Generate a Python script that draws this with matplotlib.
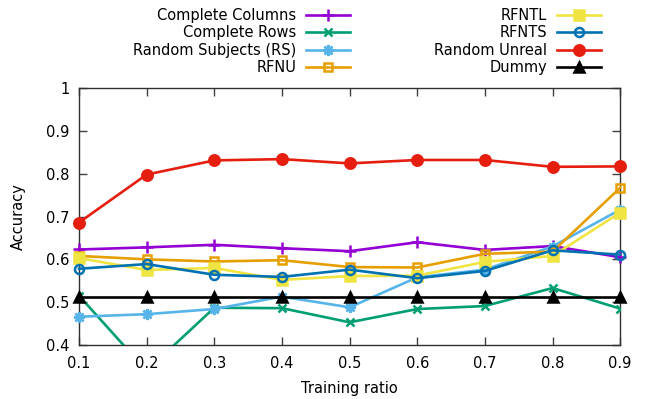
import numpy as np
import matplotlib
matplotlib.use('Agg')
import matplotlib.pyplot as plt

ratios = [0.1, 0.2, 0.3, 0.4, 0.5, 0.6, 0.7, 0.8, 0.9]

complete_columns = [0.623, 0.628, 0.634, 0.626, 0.619, 0.640, 0.622, 0.631, 0.605]
complete_rows = [0.515, 0.340, 0.487, 0.486, 0.453, 0.484, 0.491, 0.533, 0.485]
random_subjects = [0.466, 0.472, 0.484, 0.513, 0.488, 0.558, 0.576, 0.630, 0.716]
rfnu = [0.608, 0.600, 0.595, 0.598, 0.582, 0.581, 0.613, 0.618, 0.767]
rfntl = [0.603, 0.575, 0.580, 0.552, 0.561, 0.562, 0.594, 0.608, 0.709]
rfnts = [0.578, 0.589, 0.564, 0.559, 0.576, 0.556, 0.573, 0.621, 0.611]
random_unreal = [0.686, 0.798, 0.831, 0.834, 0.824, 0.832, 0.832, 0.816, 0.817]
dummy = [0.511] * 9

series = [
    ('Complete Columns', complete_columns, '#9400d3', '+', 'full', 8),
    ('Complete Rows', complete_rows, '#009e73', 'x', 'full', 6),
    ('Random Subjects (RS)', random_subjects, '#56b4e9', (8, 2, 0), 'full', 8),
    ('RFNU', rfnu, '#e69f00', 's', 'none', 6),
    ('RFNTL', rfntl, '#f0e442', 's', 'full', 7.5),
    ('RFNTS', rfnts, '#0072b2', 'o', 'none', 6.5),
    ('Random Unreal', random_unreal, '#e51e10', 'o', 'full', 7.5),
    ('Dummy', dummy, '#000000', '^', 'full', 7),
]

plt.rcParams['font.family'] = 'DejaVu Sans'
plt.rcParams['font.size'] = 10.5

fig = plt.figure(figsize=(6.64, 3.99), dpi=100)
ax = fig.add_axes([0.119, 0.1353, 0.815, 0.6441])

for name, vals, color, marker, fill, ms in series:
    ax.plot(ratios, vals, color=color, marker=marker, fillstyle=fill,
            markersize=ms, markeredgewidth=1.8, linewidth=1.9, label=name,
            clip_on=(name == 'Complete Rows'), zorder=3)

ax.set_xlim(0.1, 0.9)
ax.set_ylim(0.4, 1.0)
ax.set_xticks(ratios)
ax.set_xticklabels([str(r) for r in ratios])
ax.set_yticks([0.4, 0.5, 0.6, 0.7, 0.8, 0.9, 1.0])
ax.set_yticklabels(['0.4', '0.5', '0.6', '0.7', '0.8', '0.9', '1'])
ax.tick_params(direction='in', length=6, width=1, color='#404040',
               top=True, right=True)
ax.tick_params(axis='x', pad=8)
ax.tick_params(axis='y', pad=7)
for s in ax.spines.values():
    s.set_color('#303030')
    s.set_linewidth(1)
ax.set_xlabel('Training ratio', labelpad=7)
ax.set_ylabel('Accuracy', labelpad=14)

leg = fig.legend(loc='upper right', bbox_to_anchor=(601 / 664, 1 - 8 / 399),
                 ncol=2, markerfirst=False, frameon=False,
                 handlelength=3.0, columnspacing=5.8, labelspacing=0.17,
                 handletextpad=0.68, borderpad=0, borderaxespad=0)

fig.savefig('out.png', dpi=100)
